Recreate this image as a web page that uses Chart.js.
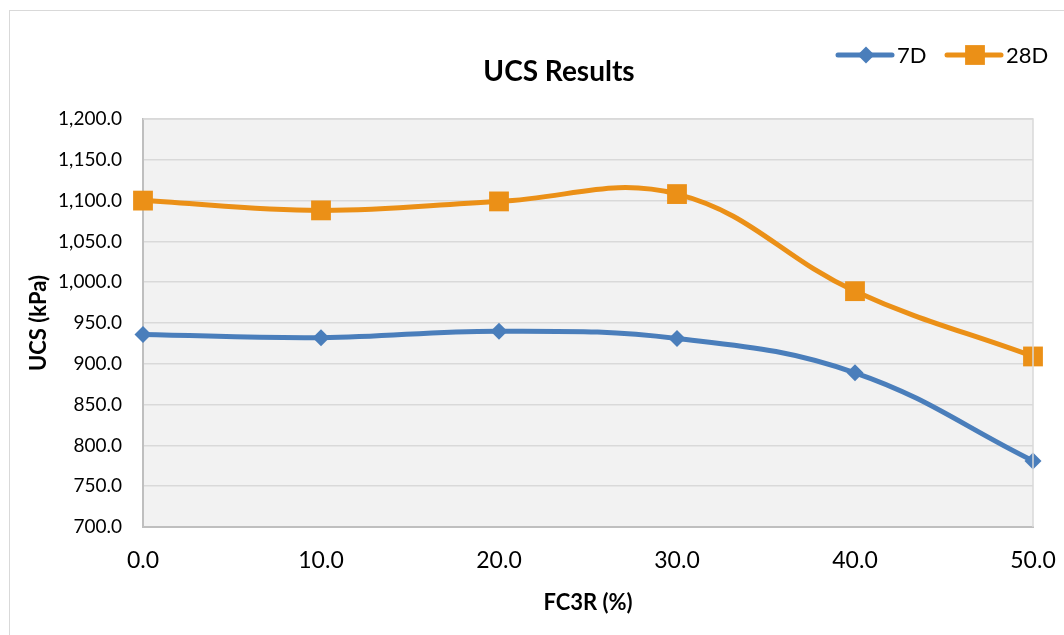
<!DOCTYPE html>
<html>
<head>
<meta charset="utf-8">
<script src="https://cdn.jsdelivr.net/npm/chart.js@4"></script>
<style>
  html, body { margin: 0; padding: 0; background: #fff; overflow: hidden; }
  #frame { position: absolute; left: 9px; top: 10px; width: 1100px; height: 700px; border: 1px solid #d9d9d9; box-sizing: border-box; }
  #wrap { position: absolute; left: 0; top: 0; width: 1064px; height: 635px; }
</style>
</head>
<body>
<div id="frame"></div>
<div id="wrap"><canvas id="ucs" width="1064" height="635"></canvas></div>
<script>
// UCS results
const fc3r = [0, 10, 20, 30, 40, 50];
const ucs7d = [936, 932, 940, 931, 889, 781];
const ucs28d = [1100, 1088, 1099, 1108, 989, 909];
const seriesNames = ['7D', '28D'];

const FONT = 'Lato, "Open Sans", sans-serif';
const BLUE = '#4a7ebb';
const ORANGE = '#eb9017';

// plot background, border, title and legend drawn by hand (Excel look)
const excelBits = {
  id: 'excelBits',
  beforeDraw(chart) {
    const { ctx, chartArea: a } = chart;
    ctx.save();
    ctx.fillStyle = '#f2f2f2';
    ctx.fillRect(a.left, a.top, a.right - a.left, a.bottom - a.top);
    ctx.restore();
  },
  afterDatasetsDraw(chart) {
    const { ctx, chartArea: a } = chart;
    ctx.save();
    ctx.strokeStyle = '#d9d9d9';
    ctx.lineWidth = 1.5;
    ctx.beginPath();
    ctx.moveTo(a.left, a.top); ctx.lineTo(a.right, a.top); ctx.lineTo(a.right, a.bottom);
    ctx.stroke();
    ctx.restore();
  },
  afterDraw(chart) {
    const { ctx } = chart;
    ctx.save();
    ctx.fillStyle = '#000';
    ctx.textBaseline = 'middle';
    ctx.textAlign = 'center';
    ctx.font = 'bold 28px ' + FONT;
    ctx.fillText('UCS Results', 559, 72);

    // legend
    const items = [
      { x: 838, label: seriesNames[0], color: BLUE, style: 'rectRot', r: 8.5 },
      { x: 947, label: seriesNames[1], color: ORANGE, style: 'rect', r: 14 }
    ];
    ctx.font = '22px ' + FONT;
    ctx.textAlign = 'left';
    items.forEach(it => {
      const y = 55;
      ctx.strokeStyle = it.color;
      ctx.lineWidth = 5;
      ctx.lineCap = 'round';
      ctx.beginPath();
      ctx.moveTo(it.x, y); ctx.lineTo(it.x + 54, y);
      ctx.stroke();
      ctx.fillStyle = it.color;
      Chart.helpers.drawPoint(ctx, { pointStyle: it.style, radius: it.r, borderWidth: 0 }, it.x + 28, y);
      ctx.fillStyle = '#000';
      ctx.fillText(it.label, it.x + 59, y + 1);
    });
    ctx.restore();
  }
};

const toPts = ys => fc3r.map((x, i) => ({ x: x, y: ys[i] }));

new Chart(document.getElementById('ucs'), {
  type: 'line',
  data: {
    datasets: [
      {
        label: seriesNames[0],
        data: toPts(ucs7d),
        borderColor: BLUE, backgroundColor: BLUE,
        borderWidth: 5, tension: 0.4,
        pointStyle: 'rectRot', pointRadius: 8.5, pointHoverRadius: 8.5,
        pointBorderWidth: 0, clip: false
      },
      {
        label: seriesNames[1],
        data: toPts(ucs28d),
        borderColor: ORANGE, backgroundColor: ORANGE,
        borderWidth: 5, tension: 0.4,
        pointStyle: 'rect', pointRadius: 14, pointHoverRadius: 14,
        pointBorderWidth: 0, clip: false
      }
    ]
  },
  options: {
    responsive: false,
    animation: false,
    layout: { padding: { top: 119, right: 31, left: 0, bottom: 0 } },
    plugins: {
      legend: { display: false },
      title: { display: false },
      tooltip: { enabled: false }
    },
    scales: {
      x: {
        type: 'linear', min: 0, max: 50,
        afterFit: s => { s.height = 108; s.paddingLeft = 0; s.paddingRight = 0; },
        ticks: {
          stepSize: 10, padding: 20, color: '#000', maxRotation: 0,
          font: { family: FONT, size: 23 },
          callback: v => v.toFixed(1)
        },
        grid: { display: false, drawTicks: false },
        border: { display: true, color: '#bfbfbf', width: 2 },
        title: {
          display: true, text: 'FC3R (%)', color: '#000',
          font: { family: FONT, size: 22, weight: 'bold' },
          padding: { top: 0, bottom: 19 }
        }
      },
      y: {
        min: 700, max: 1200,
        afterFit: s => { s.width = 143; },
        ticks: {
          stepSize: 50, padding: 21, color: '#000',
          font: { family: FONT, size: 19 },
          callback: v => v.toLocaleString('en-US', { minimumFractionDigits: 1, maximumFractionDigits: 1 })
        },
        grid: { color: '#d9d9d9', lineWidth: 1.5, drawTicks: false },
        border: { display: true, color: '#bfbfbf', width: 2 },
        title: {
          display: true, text: 'UCS (kPa)', color: '#000',
          font: { family: FONT, size: 22, weight: 'bold' },
          padding: { top: 26, bottom: 0 }
        }
      }
    }
  },
  plugins: [excelBits]
});
</script>
</body>
</html>
